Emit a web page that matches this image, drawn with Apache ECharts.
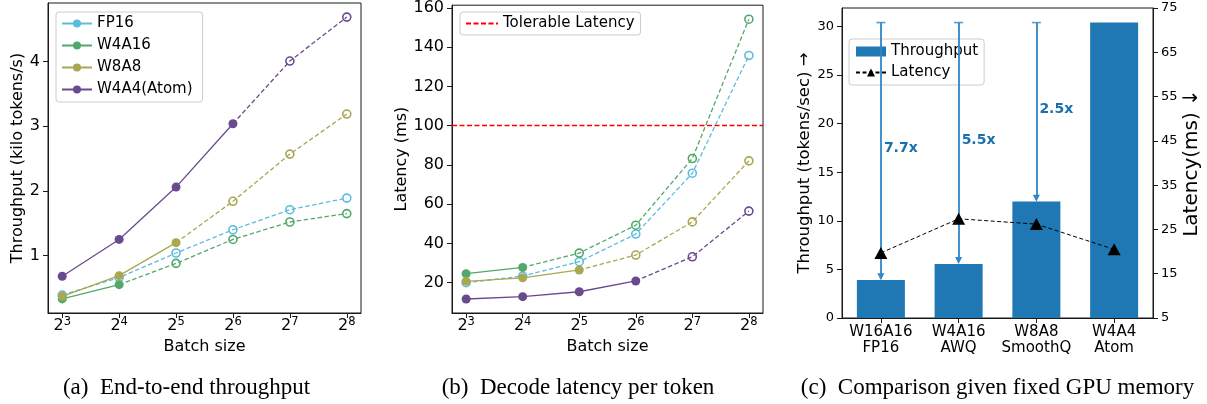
<!DOCTYPE html>
<html><head><meta charset="utf-8">
<script src="https://cdn.jsdelivr.net/npm/echarts@6/dist/echarts.min.js"></script>
<style>html,body{margin:0;padding:0;background:#fff}#c{width:1207px;height:404px}</style>
</head><body><div id="c"></div>
<script>
// ---------- data ----------
const batchSizes = [8, 16, 32, 64, 128, 256];
const seriesNames = ['FP16', 'W4A16', 'W8A8', 'W4A4(Atom)'];
const tputFP16  = [0.39, 0.66, 1.04, 1.40, 1.71, 1.89];
const tputW4A16 = [0.33, 0.55, 0.88, 1.25, 1.52, 1.65];
const tputW8A8  = [0.37, 0.69, 1.20, 1.84, 2.57, 3.19];
const tputW4A4  = [0.68, 1.25, 2.06, 3.04, 4.01, 4.69];
const latFP16   = [20.0, 23.4, 30.7, 44.8, 75.8, 135.8];
const latW4A16  = [24.6, 27.8, 35.1, 49.3, 83.3, 154.3];
const latW8A8   = [20.7, 22.5, 26.5, 34.1, 51.0, 82.1];
const latW4A4   = [11.7, 12.9, 15.4, 20.9, 33.2, 56.5];
const solidPoints = [0, 2, 3, 4];          // leading points drawn solid / filled
const tputTicks = [1, 2, 3, 4];
const latTicks = [20, 40, 60, 80, 100, 120, 140, 160];
const tolerableLatency = 100;
const methods = ['W16A16\nFP16', 'W4A16\nAWQ', 'W8A8\nSmoothQ', 'W4A4\nAtom'];
const throughputC = [3.9, 5.56, 11.98, 30.4];
const latencyC = [19.7, 27.4, 26.2, 20.5];
const speedupLabels = ['7.7x', '5.5x', '2.5x'];
const tputCTicks = [0, 5, 10, 15, 20, 25, 30];
const latCTicks = [5, 15, 25, 35, 45, 55, 65, 75];
const captions = ['(a)\u2002End-to-end throughput', '(b)\u2002Decode latency per token', '(c)\u2002Comparison given fixed GPU memory'];

// ---------- styles ----------
const FONT = 'DejaVu Sans';
const colors = ['#5bbcdc', '#52a86a', '#a9a752', '#6a4a8e'];
const AX = '#1a1a1a';

function pad(arr, frac) {
  const mn = Math.min(...arr), mx = Math.max(...arr), r = mx - mn;
  return [mn - r * frac, mx + r * frac];
}
const tputExt = pad([].concat(tputFP16, tputW4A16, tputW8A8, tputW4A4), 0.05);
const latExt = pad([].concat(latFP16, latW4A16, latW8A8, latW4A4), 0.05);
const xMin = Math.pow(2, Math.log2(batchSizes[0]) - 0.25);
const xMax = Math.pow(2, Math.log2(batchSizes[batchSizes.length - 1]) + 0.25);

function logXAxis(grid) {
  return {
    type: 'log', logBase: 2, gridIndex: grid, min: xMin, max: xMax,
    name: 'Batch size', nameLocation: 'middle', nameGap: 26,
    nameTextStyle: { fontFamily: FONT, fontSize: 16, color: '#000' },
    axisLine: { show: true, lineStyle: { color: AX, width: 1 } },
    axisTick: { show: true, length: 5, lineStyle: { color: AX } },
    axisLabel: {
      margin: 3, showMinLabel: false, showMaxLabel: false,
      formatter: v => '{b|2}{s|' + Math.round(Math.log2(v)) + '}',
      rich: {
        b: { fontFamily: FONT, fontSize: 16, lineHeight: 20, color: '#000' },
        s: { fontFamily: FONT, fontSize: 11.5, lineHeight: 12, color: '#000', verticalAlign: 'top' }
      }
    },
    splitLine: { show: false }
  };
}
function valYAxis(grid, ext, ticks, name, gap, fs, nfs, extra) {
  return Object.assign({
    type: 'value', gridIndex: grid, min: ext[0], max: ext[1],
    name: name, nameLocation: 'middle', nameGap: gap, nameRotate: 90,
    nameTextStyle: { fontFamily: FONT, fontSize: nfs, color: '#000' },
    axisLine: { show: true, lineStyle: { color: AX, width: 1 } },
    axisTick: { show: true, length: 5, customValues: ticks, lineStyle: { color: AX } },
    axisLabel: { customValues: ticks, fontFamily: FONT, fontSize: fs, color: '#000', margin: 8 },
    splitLine: { show: false }
  }, extra || {});
}

const series = [];
function addPanel(dataSets, axisIdx, suffix) {
  dataSets.forEach((vals, k) => {
    const c = colors[k];
    const nSolid = solidPoints[k];
    const dashedStart = Math.max(nSolid - 1, 0);
    const dashedData = [];
    for (let i = dashedStart; i < vals.length; i++) {
      const item = { value: [batchSizes[i], vals[i]] };
      if (nSolid > 0 && i === dashedStart) item.symbol = 'none';
      dashedData.push(item);
    }
    series.push({
      name: nSolid === 0 ? seriesNames[k] + suffix : seriesNames[k] + suffix + ' (dashed)',
      type: 'line', xAxisIndex: axisIdx, yAxisIndex: axisIdx, data: dashedData,
      symbol: 'circle', symbolSize: 8, showAllSymbol: true,
      itemStyle: { color: 'rgba(255,255,255,0)', borderColor: c, borderWidth: 1.6 },
      lineStyle: { color: c, width: 1.3, type: [4.5, 2.5] }, emphasis: { disabled: true }
    });
    if (nSolid > 0) {
      const solidData = [];
      for (let i = 0; i < nSolid; i++) solidData.push([batchSizes[i], vals[i]]);
      series.push({
        name: seriesNames[k] + suffix, type: 'line', xAxisIndex: axisIdx, yAxisIndex: axisIdx,
        data: solidData, symbol: 'circle', symbolSize: 9, showAllSymbol: true,
        itemStyle: { color: c }, lineStyle: { color: c, width: 1.3 }, emphasis: { disabled: true }
      });
    }
  });
}
addPanel([tputFP16, tputW4A16, tputW8A8, tputW4A4], 0, '');
addPanel([latFP16, latW4A16, latW8A8, latW4A4], 1, ' ');

series.push({
  name: 'Tolerable Latency', type: 'line', xAxisIndex: 1, yAxisIndex: 1, data: [],
  symbol: 'none', lineStyle: { color: '#ff0000', width: 1.3, type: [5, 2.5] }, itemStyle: { color: '#ff0000' },
  markLine: { silent: true, symbol: 'none', lineStyle: { color: '#ff0000', width: 1.3, type: [5, 2.5] },
    label: { show: false }, data: [{ yAxis: tolerableLatency }] }
});

// ---------- panel (c) ----------
const best = throughputC[throughputC.length - 1];
const arrowLines = speedupLabels.map((s, i) => [
  { coord: [i, best], symbol: 'none' },
  { coord: [i, throughputC[i] + 0.35], symbol: 'triangle' }
]);
series.push({
  name: 'Throughput', type: 'bar', xAxisIndex: 2, yAxisIndex: 2, data: throughputC,
  barWidth: 48, itemStyle: { color: '#1f77b4' }, emphasis: { disabled: true },
  markLine: { silent: true, symbolSize: 7, lineStyle: { color: '#2f86c8', width: 1.8, type: 'solid' },
    label: { show: false }, data: arrowLines }
});
series.push({
  name: 'caps', type: 'scatter', xAxisIndex: 2, yAxisIndex: 2, data: speedupLabels.map((s, i) => [i, best]),
  symbol: 'rect', symbolSize: [9, 1.6], itemStyle: { color: '#2f86c8' }, silent: true
});
series.push({
  name: 'speedups', type: 'scatter', xAxisIndex: 2, yAxisIndex: 2,
  data: speedupLabels.map((s, i) => [i, (best + throughputC[i]) / 2]), symbolSize: 0, silent: true,
  label: { show: true, position: 'right', distance: 3, offset: [0, -3], opacity: 1,
    formatter: p => speedupLabels[p.dataIndex],
    fontFamily: FONT, fontWeight: 'bold', fontSize: 14, color: '#1a6fae' }
});
series.push({
  name: 'Latency', type: 'line', xAxisIndex: 3, yAxisIndex: 3, data: latencyC,
  symbol: 'triangle', symbolSize: [13, 12], z: 5,
  itemStyle: { color: '#000' }, lineStyle: { color: '#000', width: 1, type: [4, 2.5] }, emphasis: { disabled: true }
});

const legendBox = {
  backgroundColor: 'rgba(255,255,255,0.8)', borderColor: '#cccccc', borderWidth: 1,
  borderRadius: 3, orient: 'vertical', itemWidth: 30, itemHeight: 10, selectedMode: false,
  textStyle: { fontFamily: FONT, fontSize: 15, color: '#000' }
};
const gridC = { left: 842, top: 8, width: 311, height: 310 };
const catAxis = (g, show) => ({
  type: 'category', gridIndex: g, data: methods, show: show,
  axisLine: { show: true, lineStyle: { color: AX } },
  axisTick: { show: true, length: 5, alignWithLabel: true, lineStyle: { color: AX } },
  axisLabel: { interval: 0, fontFamily: FONT, fontSize: 15, lineHeight: 16, color: '#000', margin: 6 }
});

const option = {
  animation: false, backgroundColor: '#fff',
  grid: [
    { left: 48, top: 3, width: 313, height: 310, show: true, borderColor: AX, borderWidth: 1, backgroundColor: 'transparent' },
    { left: 452, top: 4, width: 311, height: 309, show: true, borderColor: AX, borderWidth: 1, backgroundColor: 'transparent' },
    Object.assign({ show: true, borderColor: AX, borderWidth: 1, backgroundColor: 'transparent' }, gridC),
    Object.assign({ show: false }, gridC)
  ],
  xAxis: [logXAxis(0), logXAxis(1), catAxis(2, true), catAxis(3, false)],
  yAxis: [
    valYAxis(0, tputExt, tputTicks, 'Throughput (kilo tokens/s)', 14, 16, 16),
    valYAxis(1, latExt, latTicks, 'Latency (ms)', 36, 16, 16),
    valYAxis(2, [0, 31.9], tputCTicks, 'Throughput (tokens/sec) \u2192', 26, 13, 16.5),
    valYAxis(3, [5, 75], latCTicks, 'Latency(ms) \u2193', 26, 13, 20, { position: 'right' })
  ],
  legend: [
    Object.assign({}, legendBox, { left: 56, top: 12, padding: [4, 10, 5, 5], itemGap: 7,
      data: [{ name: 'FP16', itemStyle: { color: colors[0], borderWidth: 0 }, lineStyle: { type: 'solid' } },
             'W4A16', 'W8A8', 'W4A4(Atom)'] }),
    Object.assign({}, legendBox, { left: 460, top: 12, padding: [4, 6, 4, 5], itemWidth: 32,
      data: [{ name: 'Tolerable Latency', itemStyle: { opacity: 0 } }] }),
    Object.assign({}, legendBox, { left: 849, top: 39, padding: [5, 6, 5, 6], itemGap: 6,
      data: [{ name: 'Throughput', icon: 'rect' }, 'Latency'] })
  ],
  graphic: captions.map((t, i) => ({
    type: 'text', x: [186.5, 578, 997.5][i], y: 388,
    style: { text: t, fontFamily: 'Liberation Serif', fontSize: 23, fill: '#000', textAlign: 'center', textVerticalAlign: 'middle' }
  })),
  series: series
};
echarts.init(document.getElementById('c')).setOption(option);
</script>
</body></html>
